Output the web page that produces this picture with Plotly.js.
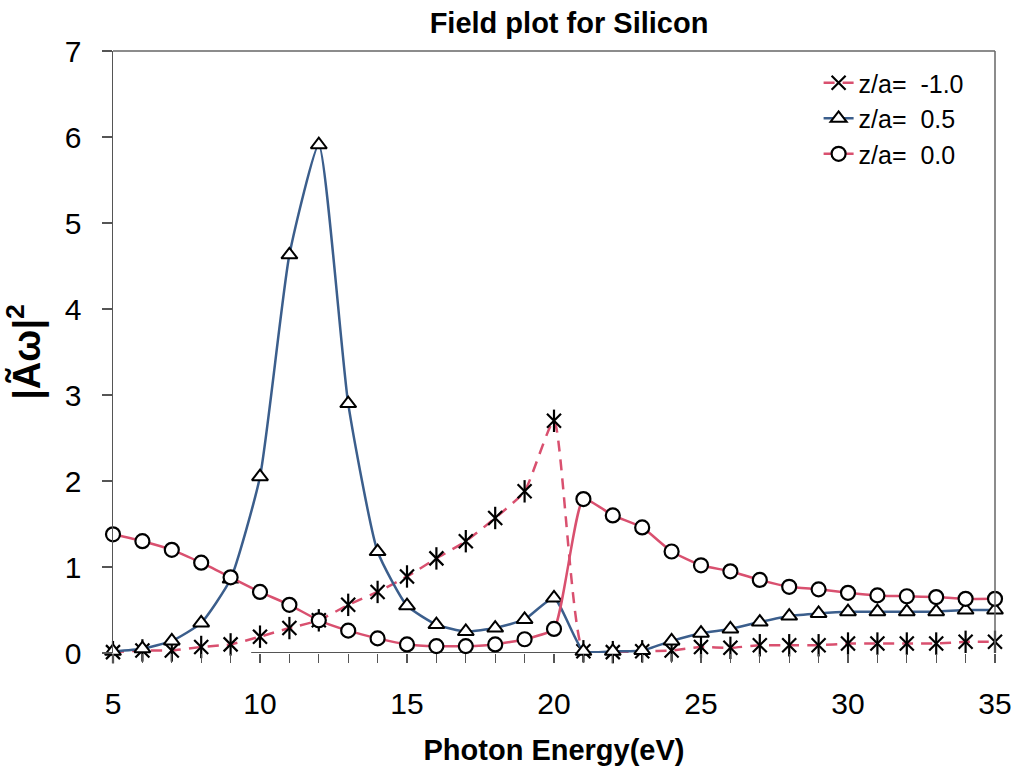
<!DOCTYPE html>
<html>
<head>
<meta charset="utf-8">
<script src="https://cdn.plot.ly/plotly-3.0.1.min.js"></script>
<style>html,body{margin:0;padding:0;background:#fff;}#chart{width:1021px;height:778px;}</style>
</head>
<body>
<div id="chart"></div>
<script>
const energy = [5,6,7,8,9,10,11,12,13,14,15,16,17,18,19,20,21,22,23,24,25,26,27,28,29,30,31,32,33,34,35];
const zMinus1 = [0.01,0.03,0.03,0.07,0.10,0.19,0.29,0.38,0.56,0.71,0.89,1.10,1.30,1.57,1.88,2.70,0.02,0.01,0.02,0.03,0.07,0.06,0.09,0.09,0.09,0.11,0.11,0.11,0.11,0.13,0.13];
const zHalf = [0.02,0.05,0.14,0.35,0.86,2.05,4.63,5.91,2.90,1.18,0.55,0.33,0.25,0.29,0.39,0.64,0.02,0.02,0.03,0.14,0.23,0.28,0.36,0.43,0.46,0.48,0.48,0.48,0.48,0.50,0.50];
const zZero = [1.38,1.30,1.20,1.05,0.88,0.71,0.56,0.38,0.26,0.17,0.10,0.08,0.08,0.10,0.16,0.28,1.79,1.60,1.46,1.18,1.02,0.95,0.85,0.77,0.74,0.70,0.67,0.66,0.65,0.63,0.63];
const seriesNames = ['z/a=\u00a0 -1.0','z/a=\u00a0 0.5','z/a=\u00a0 0.0'];
const xTickVals = [5,10,15,20,25,30,35];
const yTickVals = [0,1,2,3,4,5,6,7];

const pink = '#d9506f';
const blue = '#3b5e8c';

const traces = [
  {x: energy, y: zMinus1, name: seriesNames[0], mode: 'lines+markers',
   line: {color: pink, width: 2.5, dash: '11px,8px', shape: 'spline', smoothing: 0.5},
   marker: {symbol: 'x-thin-open', size: 14, color: '#000', line: {color: '#000', width: 2.2}},
   cliponaxis: false},
  {x: energy, y: zMinus1, name: seriesNames[0], mode: 'markers', showlegend: false, hoverinfo: 'skip',
   marker: {symbol: 'line-ns-open', size: 16, color: '#000', line: {color: '#000', width: 2.2}},
   cliponaxis: false},
  {x: energy, y: zHalf, name: seriesNames[1], mode: 'lines+markers',
   line: {color: blue, width: 2.5, shape: 'spline', smoothing: 0.5},
   marker: {symbol: 'triangle-up', size: 14, color: '#fff', line: {color: '#000', width: 2}},
   cliponaxis: false},
  {x: energy, y: zZero, name: seriesNames[2], mode: 'lines+markers',
   line: {color: pink, width: 2.5, shape: 'spline', smoothing: 0.5},
   marker: {symbol: 'circle', size: 14, color: '#fff', line: {color: '#000', width: 2.2}},
   cliponaxis: false}
];

const layout = {
  width: 1021, height: 778,
  paper_bgcolor: '#fff', plot_bgcolor: '#fff',
  margin: {l: 113, r: 26, t: 51, b: 125},
  font: {family: 'Liberation Sans, Arial, sans-serif', color: '#000'},
  title: {text: '<b>Field plot for Silicon</b>', font: {size: 29, color: '#000'},
          x: 569/1021, xref: 'container', xanchor: 'center', y: 1 - 23/778, yanchor: 'middle'},
  xaxis: {range: [5, 35], tickvals: xTickVals, ticktext: xTickVals.map(String),
          ticks: 'outside', ticklen: 9, tickwidth: 1.2, tickcolor: '#555',
          minor: {dtick: 1, ticks: 'outside', ticklen: 9, tickwidth: 1.2, tickcolor: '#555'},
          showline: false, showgrid: false, zeroline: false,
          tickfont: {size: 30, color: '#000'}, ticklabelstandoff: 15,
          title: {text: '<b>Photon Energy(eV)</b>', font: {size: 29, color: '#000'}, standoff: 20}},
  yaxis: {range: [0, 7], tickvals: yTickVals, ticks: 'outside', ticklen: 10, tickwidth: 1.2, tickcolor: '#555',
          showline: true, linecolor: '#555', linewidth: 1.5, showgrid: false, zeroline: false,
          tickfont: {size: 30, color: '#000'}, ticklabelstandoff: 14,
          title: {text: '<b>|Ãω|<sup>2</sup></b>', font: {size: 38, color: '#000'}, standoff: 12}},
  shapes: [
    {type: 'line', xref: 'paper', yref: 'paper', x0: 0, x1: 1, y0: 1, y1: 1, line: {color: '#666', width: 1.5}},
    {type: 'line', xref: 'paper', yref: 'paper', x0: 1, x1: 1, y0: 0, y1: 1, line: {color: '#666', width: 1.5}},
    {type: 'line', xref: 'x', yref: 'y', x0: 9.7, x1: 21, y0: 0, y1: 0, line: {color: '#555', width: 2}, layer: 'below'}
  ],
  legend: {x: 0.80, y: 0.985, xanchor: 'left', yanchor: 'top', bgcolor: 'rgba(0,0,0,0)',
           font: {size: 25, color: '#000'}, itemwidth: 30, tracegroupgap: 0},
  showlegend: true
};

Plotly.newPlot('chart', traces, layout, {displayModeBar: false, staticPlot: true});
</script>
</body>
</html>
